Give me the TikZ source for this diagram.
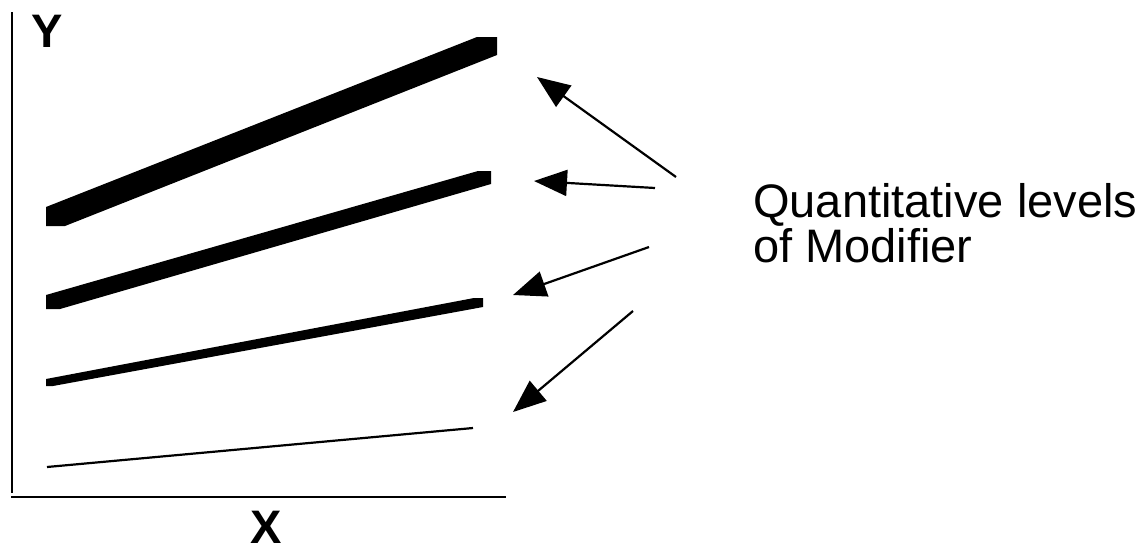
\documentclass[tikz,border=0pt]{standalone}
\usepackage{fontspec}
\setmainfont{Liberation Sans}
\usetikzlibrary{arrows.meta}
\tikzset{
  axis/.style={line width=2.2pt},
  band/.style={fill=black,draw=none},
  pointer/.style={line width=2.2pt,-{Triangle[length=33pt,width=26pt]}},
  axlabel/.style={font=\fontsize{47}{50}\selectfont\bfseries,inner sep=0pt},
  legend/.style={font=\fontsize{47}{45}\selectfont,align=left,inner sep=0pt,anchor=base west}
}
\begin{document}
\begin{tikzpicture}[x=1pt,y=-1pt]
\useasboundingbox (0,0) rectangle (1147,555);
% axes
\coordinate (ytop) at (12,12);
\coordinate (orig) at (12,493);
\coordinate (xl) at (11,497);
\coordinate (xr) at (506,497);
\draw[axis] (ytop) -- (orig);
\draw[axis] (xl) -- (xr);
\node[axlabel] (Y) at (47,31) {Y};
\node[axlabel] (X) at (266,527) {X};
% bands
\fill[band] (46,207) -- (477,37) -- (497,37) -- (497,55) -- (65,226) -- (46,226) -- cycle;
\fill[band] (46,295) -- (478,171) -- (491,171) -- (491,184) -- (60,309) -- (46,309) -- cycle;
\fill[band] (46,379) -- (474,298) -- (483,298) -- (483,307) -- (53,386) -- (46,386) -- cycle;
\draw[line width=2.2pt] (47,467) -- (473,428);
% legend
\node[legend] (lab) at (753,262) {Quantitative levels\\of Modifier};
% arrows
\coordinate (t1) at (676,177); \coordinate (h1) at (537,77);
\coordinate (t2) at (655,188); \coordinate (h2) at (534,181);
\coordinate (t3) at (649,247); \coordinate (h3) at (513,295);
\coordinate (t4) at (633,311); \coordinate (h4) at (513,412);
\draw[pointer] (t1) -- (h1);
\draw[pointer] (t2) -- (h2);
\draw[pointer] (t3) -- (h3);
\draw[pointer] (t4) -- (h4);
\end{tikzpicture}
\end{document}
